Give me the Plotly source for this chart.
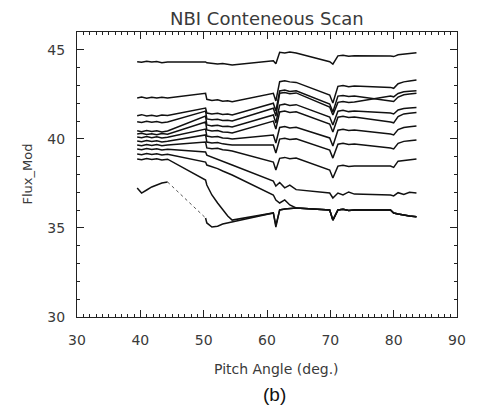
import plotly.graph_objects as go

# Pitch angle sample positions (deg.)
pitch = [39.5, 40.2, 41.0, 41.8, 42.6, 43.4, 44.3, 50.3,
         50.5, 51.3, 52.2, 53.0, 53.8, 54.5, 61.0, 61.4,
         62.0, 62.8, 63.6, 64.6, 69.9, 70.4, 71.2, 72.0,
         72.9, 73.8, 79.5, 80.0, 80.7, 81.6, 82.5, 83.6]

flux_1 = [44.33, 44.30, 44.36, 44.31, 44.34, 44.28, 44.32, 44.32,
          44.27, 44.24, 44.20, 44.23, 44.18, 44.15, 44.39, 44.22,
          44.86, 44.82, 44.87, 44.82, 44.33, 44.20, 44.66, 44.70,
          44.64, 44.67, 44.65, 44.62, 44.72, 44.76, 44.80, 44.84]
flux_2 = [42.30, 42.35, 42.28, 42.34, 42.29, 42.33, 42.30, 42.56,
          42.22, 42.16, 42.20, 42.11, 42.14, 42.09, 42.56, 42.13,
          43.21, 43.26, 43.20, 43.17, 42.46, 42.01, 42.95, 43.00,
          42.93, 42.97, 42.89, 42.84, 43.10, 43.20, 43.25, 43.30]
flux_3 = [41.30, 41.36, 41.28, 41.33, 41.27, 41.34, 41.31, 41.73,
          41.45, 41.40, 41.44, 41.37, 41.39, 41.34, 42.00, 41.56,
          42.69, 42.74, 42.66, 42.70, 41.96, 41.51, 42.40, 42.44,
          42.38, 42.41, 42.13, 42.10, 42.35, 42.48, 42.52, 42.56]
flux_4 = [40.96, 40.92, 40.99, 40.93, 40.98, 40.91, 40.95, 41.56,
          41.12, 41.07, 41.10, 41.03, 41.05, 41.00, 41.72, 41.28,
          42.56, 42.60, 42.53, 42.58, 41.79, 41.34, 42.05, 42.10,
          42.04, 42.07, 42.41, 42.36, 42.55, 42.64, 42.67, 42.70]
flux_5 = [40.45, 40.40, 40.47, 40.42, 40.46, 40.39, 40.44, 41.28,
          40.78, 40.73, 40.76, 40.69, 40.71, 40.67, 41.34, 40.89,
          41.90, 41.95, 41.88, 41.92, 41.23, 40.78, 41.55, 41.60,
          41.53, 41.56, 41.45, 41.40, 41.62, 41.70, 41.73, 41.76]
flux_6 = [40.27, 40.31, 40.24, 40.29, 40.23, 40.30, 40.26, 40.95,
          40.50, 40.44, 40.47, 40.39, 40.37, 40.33, 41.00, 40.55,
          41.51, 41.56, 41.48, 41.52, 40.83, 40.39, 41.22, 41.27,
          41.20, 41.23, 40.95, 40.90, 41.25, 41.40, 41.44, 41.48]
flux_7 = [40.10, 40.06, 40.13, 40.07, 40.12, 40.05, 40.09, 40.55,
          40.16, 40.11, 40.13, 40.05, 40.03, 39.99, 40.22, 39.77,
          40.64, 40.69, 40.61, 40.65, 40.05, 39.60, 40.49, 40.54,
          40.47, 40.50, 40.27, 40.22, 40.52, 40.64, 40.68, 40.72]
flux_8 = [39.88, 39.84, 39.91, 39.85, 39.90, 39.83, 39.87, 40.22,
          39.82, 39.77, 39.80, 39.72, 39.69, 39.66, 39.66, 39.21,
          39.99, 40.04, 39.96, 40.00, 39.37, 38.92, 39.70, 39.75,
          39.68, 39.71, 39.49, 39.44, 39.75, 39.86, 39.90, 39.94]
flux_9 = [39.66, 39.62, 39.69, 39.63, 39.68, 39.61, 39.65, 39.82,
          39.49, 39.44, 39.47, 39.39, 39.36, 39.32, 38.70, 38.25,
          38.91, 38.96, 38.88, 38.92, 38.25, 37.80, 38.47, 38.52,
          38.45, 38.48, 38.48, 38.40, 38.75, 38.80, 38.84, 38.87]
flux_10 = [39.43, 39.39, 39.46, 39.40, 39.45, 39.38, 39.42, 39.26,
           39.09, 38.98, 38.88, 38.78, 38.66, 38.53, 37.63, 37.35,
           37.55, 37.25, 37.40, 37.15, 36.96, 36.68, 36.96, 36.85,
           37.02, 36.90, 36.85, 36.80, 36.98, 36.88, 37.00, 36.96]
flux_11 = [39.15, 39.11, 39.18, 39.12, 39.17, 39.10, 39.14, 38.70,
           38.53, 38.45, 38.33, 38.20, 38.08, 37.97, 36.85, 36.57,
           36.40, 36.57, 36.29, 36.12, 36.01, 35.44, 36.01, 36.05,
           35.98, 36.01, 36.01, 35.84, 35.78, 35.72, 35.67, 35.63]
flux_12 = [38.87, 38.83, 38.90, 38.84, 38.89, 38.82, 38.86, 37.69,
           37.41, 36.85, 36.40, 36.01, 35.67, 35.44, 35.84, 35.16,
           36.01, 36.06, 36.10, 36.12, 36.01, 35.44, 36.01, 36.05,
           35.98, 36.01, 36.01, 35.84, 35.78, 35.72, 35.67, 35.63]
flux_13 = [37.24, 36.96, 37.13, 37.30, 37.41, 37.52, 37.58, 35.56,
           35.28, 35.05, 35.10, 35.22, 35.28, 35.33, 35.84, 35.05,
           36.01, 36.06, 36.10, 36.12, 36.01, 35.44, 36.01, 36.05,
           35.98, 36.01, 36.01, 35.84, 35.78, 35.72, 35.67, 35.63]

solid_series = [flux_1, flux_2, flux_3, flux_4, flux_5, flux_6, flux_7,
                flux_8, flux_9, flux_10, flux_11, flux_12]

x_ticks = [30, 40, 50, 60, 70, 80, 90]
y_ticks = [30, 35, 40, 45]

INK = "#111111"
TEXT = "#3a3a3a"
FONT = "DejaVu Sans"

fig = go.Figure()
for ys in solid_series:
    fig.add_trace(go.Scatter(x=pitch, y=ys, mode="lines",
                             line=dict(color=INK, width=1.5),
                             hoverinfo="skip", showlegend=False))

# lowest trace: solid except a faint dotted descent after the first window
gap = 6
x13 = pitch[:gap + 1] + [None] + pitch[gap + 1:]
y13 = flux_13[:gap + 1] + [None] + flux_13[gap + 1:]
fig.add_trace(go.Scatter(x=x13, y=y13, mode="lines",
                         line=dict(color=INK, width=1.5),
                         hoverinfo="skip", showlegend=False))
fig.add_trace(go.Scatter(x=pitch[gap:gap + 2], y=flux_13[gap:gap + 2], mode="lines",
                         line=dict(color="#555555", width=1, dash="dot"),
                         hoverinfo="skip", showlegend=False))

axis_common = dict(
    showline=True, linecolor="#222222", linewidth=1, mirror="ticks",
    ticks="inside", ticklen=7, tickwidth=1, tickcolor="#222222",
    showgrid=False, zeroline=False,
    tickfont=dict(family=FONT, size=14, color=TEXT),
)

fig.update_layout(
    width=469, height=408,
    margin=dict(l=69, r=11, t=24, b=99),
    paper_bgcolor="white", plot_bgcolor="white",
    xaxis=dict(range=[30, 90], tickvals=x_ticks, ticktext=[str(v) for v in x_ticks],
               minor=dict(dtick=1, ticks="inside", ticklen=3, tickcolor="#222222", showgrid=False),
               ticklabelstandoff=10, **axis_common),
    yaxis=dict(range=[30, 46], tickvals=y_ticks, ticktext=[str(v) for v in y_ticks],
               minor=dict(dtick=1, ticks="inside", ticklen=3, tickcolor="#222222", showgrid=False),
               ticklabelstandoff=8, **axis_common),
    annotations=[
        dict(text="NBI Conteneous Scan", x=0.50, y=1, xref="paper", yref="paper",
             yanchor="middle", yshift=14, showarrow=False,
             font=dict(family=FONT, size=18, color=TEXT)),
        dict(text="Pitch Angle (deg.)", x=0.525, y=0, xref="paper", yref="paper",
             yanchor="middle", yshift=-52, showarrow=False,
             font=dict(family=FONT, size=14, color=TEXT)),
        dict(text="Flux_Mod", x=0, y=0.5, xref="paper", yref="paper",
             xanchor="center", xshift=-50, textangle=-90, showarrow=False,
             font=dict(family=FONT, size=13, color=TEXT)),
        dict(text="(b)", x=0.52, y=0, xref="paper", yref="paper",
             yanchor="middle", yshift=-77, showarrow=False,
             font=dict(family="Liberation Sans", size=19, color="#111111")),
    ],
)

fig.write_html("out.html")
